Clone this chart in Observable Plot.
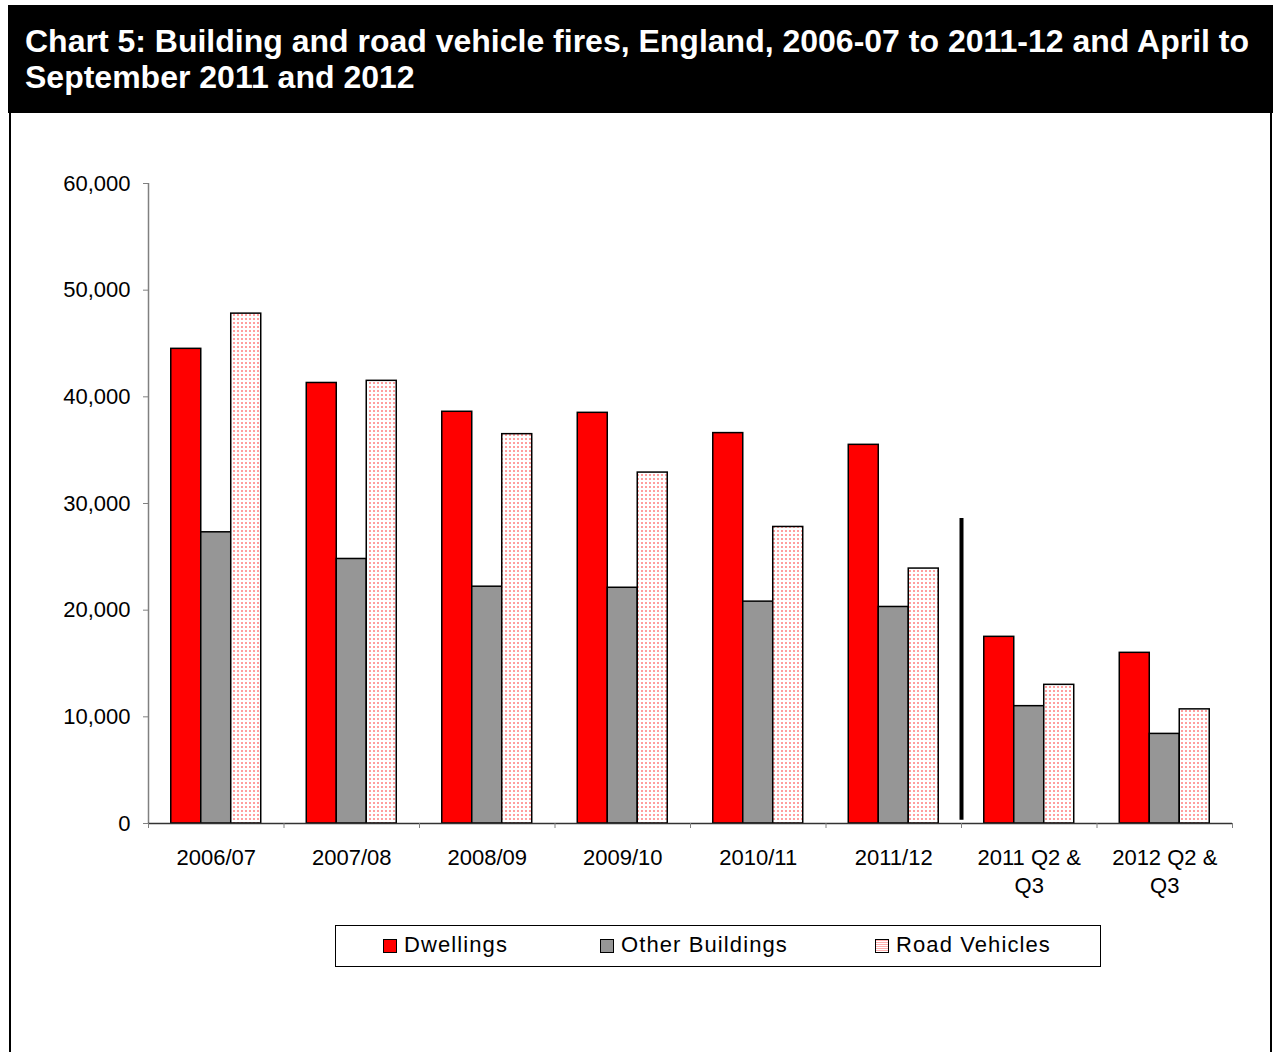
<!DOCTYPE html>
<html><head><meta charset="utf-8">
<script src="https://cdn.jsdelivr.net/npm/d3@7"></script>
<script src="https://cdn.jsdelivr.net/npm/@observablehq/plot@0.6"></script>
<style>
body{margin:0;background:#fff;font-family:"Liberation Sans",Arial,sans-serif;}
#page{position:relative;width:1273px;height:1052px;overflow:hidden;background:#fff;}
#title{position:absolute;left:8px;top:5px;width:1265px;height:108px;background:#000;color:#fff;font-weight:bold;font-size:32px;line-height:36px;box-sizing:border-box;padding:18px 0 0 17px;white-space:nowrap;}
.vborder{position:absolute;top:113px;bottom:0;width:2px;background:#000;}
#chart{position:absolute;left:0;top:113px;}
#legend{position:absolute;left:335px;top:925px;width:766px;height:42px;box-sizing:border-box;border:1px solid #000;font-size:22px;letter-spacing:1.1px;}
.item{position:absolute;top:7px;line-height:24px;white-space:nowrap;}
.sw{display:inline-block;width:12px;height:12px;border:1px solid #000;margin-right:7px;vertical-align:-1px;}
</style></head>
<body>
<div id="page">
  <div id="title">Chart 5: Building and road vehicle fires, England, 2006-07 to 2011-12 and April to<br>September 2011 and 2012</div>
  <div class="vborder" style="left:9px"></div>
  <div class="vborder" style="left:1270px"></div>
  <div id="chart"></div>
  <div id="legend"></div>
</div>
<script>
const categories = ["2006/07","2007/08","2008/09","2009/10","2010/11","2011/12","2011 Q2 &\nQ3","2012 Q2 &\nQ3"];
const seriesNames = ["Dwellings","Other Buildings","Road Vehicles"];
const dwellings = [44500, 41300, 38600, 38500, 36600, 35500, 17500, 16000];
const otherBuildings = [27300, 24800, 22200, 22100, 20800, 20300, 11000, 8400];
const roadVehicles = [47800, 41500, 36500, 32900, 27800, 23900, 13000, 10700];
const yTicks = [0, 10000, 20000, 30000, 40000, 50000, 60000];
// separator between annual and half-year figures: before category index 6, up to this value
const separator = [{index: 6, top: 28600}];

const fills = {"Dwellings": "#ff0000", "Other Buildings": "#969696", "Road Vehicles": "url(#dots)"};
const seriesValues = [dwellings, otherBuildings, roadVehicles];

const groupPad = 0.168, barW = (1 - 2 * groupPad) / 3;
const table = [];
categories.forEach((c, i) => {
  seriesNames.forEach((s, k) => {
    table.push({i, category: c, series: s, k, value: seriesValues[k][i]});
  });
});

const svg = Plot.plot({
  width: 1273,
  height: 800,
  marginLeft: 148,
  marginRight: 41,
  marginTop: 70,
  marginBottom: 90,
  style: {fontFamily: '"Liberation Sans", Arial, sans-serif', fontSize: "22px", color: "#000", background: "transparent"},
  x: {domain: [0, categories.length], axis: null, label: null},
  y: {domain: [0, 60000], axis: null, label: null},
  marks: [
    Plot.rect(table, {
      x1: d => d.i + groupPad + d.k * barW,
      x2: d => d.i + groupPad + (d.k + 1) * barW,
      y1: 0, y2: "value",
      fill: d => fills[d.series],
      stroke: "#000", strokeWidth: 1.5
    }),
    Plot.ruleX([0], {stroke: "#808080", strokeWidth: 1.5}),
    Plot.ruleY([0], {stroke: "#333", strokeWidth: 1.5}),
    Plot.axisY({ticks: yTicks, tickFormat: d3.format(","), tickSize: 5, tickPadding: 13, stroke: "#808080", fill: "#000", label: null}),
    Plot.axisX({ticks: d3.range(0, categories.length + 1), tickFormat: () => "", tickSize: 5, stroke: "#808080", label: null}),
    Plot.axisX({ticks: d3.range(categories.length).map(i => i + 0.5), tickFormat: v => categories[Math.floor(v)], tickSize: 0, tickPadding: 21, lineHeight: 1.3, fill: "#000", label: null}),
    Plot.ruleX(separator, {x: "index", y1: 300, y2: "top", stroke: "#000", strokeWidth: 4})
  ]
});

const defs = d3.select(svg).insert("defs", ":first-child");
const pat = defs.append("pattern").attr("id", "dots").attr("patternUnits", "userSpaceOnUse").attr("width", 4).attr("height", 4);
pat.append("rect").attr("width", 4).attr("height", 4).attr("fill", "#ffffff");
pat.append("rect").attr("x", 1).attr("y", 1).attr("width", 2).attr("height", 2).attr("fill", "#ff9e9e");

document.getElementById("chart").appendChild(svg);

// legend
const legendPos = [{left: 47}, {left: 264}, {left: 539}];
const legend = d3.select("#legend");
seriesNames.forEach((s, k) => {
  const it = legend.append("div").attr("class", "item").style("left", legendPos[k].left + "px");
  it.append("span").attr("class", "sw").style("background", k === 2 ? "repeating-linear-gradient(0deg,#fff 0 1px,#ffb0b0 1px 2px)" : fills[s]);
  it.append("span").text(s);
});
</script>
</body></html>
